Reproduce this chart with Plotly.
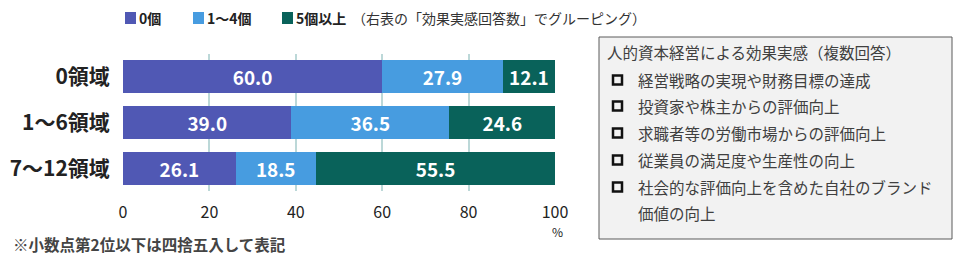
import plotly.graph_objects as go

categories = ["0領域", "1～6領域", "7～12領域"]
series_names = ["0個", "1～4個", "5個以上"]
series_values = {
    "0個": [60.0, 39.0, 26.1],
    "1～4個": [27.9, 36.5, 18.5],
    "5個以上": [12.1, 24.6, 55.5],
}
series_colors = {"0個": "#5058b4", "1～4個": "#479ce0", "5個以上": "#09625a"}
tick_vals = [0, 20, 40, 60, 80, 100]
legend_note = "（右表の「効果実感回答数」でグルーピング）"
footnote = "※小数点第2位以下は四捨五入して表記"
box_title = "人的資本経営による効果実感（複数回答）"
box_items = [
    "経営戦略の実現や財務目標の達成",
    "投資家や株主からの評価向上",
    "求職者等の労働市場からの評価向上",
    "従業員の満足度や生産性の向上",
    "社会的な評価向上を含めた自社のブランド",
]
box_item_wrap = "価値の向上"

FONT = "Noto Sans CJK JP"
W, H = 954, 279
ML, MR, MT, MB = 123, 954 - 555, 54, 279 - 191
PW, PH = W - ML - MR, H - MT - MB

fig = go.Figure()
for name in series_names:
    fig.add_trace(go.Bar(
        y=categories, x=series_values[name], name=name, orientation="h",
        marker=dict(color=series_colors[name], line=dict(width=0)),
        texttemplate="%{x:.1f}", textposition="inside", insidetextanchor="middle",
        textfont=dict(family=FONT, size=19, color="white", weight=700),
        hoverinfo="skip",
    ))

def px_x(x):
    return (x - ML) / PW

def px_y(y):
    return (H - MB - y) / PH

shapes = []
annotations = []

# legend (manual)
leg = [(125, "0個"), (193, "1～4個"), (282, "5個以上")]
for x0, name in leg:
    shapes.append(dict(type="rect", xref="paper", yref="paper",
                       x0=px_x(x0), x1=px_x(x0 + 11), y0=px_y(24), y1=px_y(12),
                       fillcolor=series_colors[name], line=dict(width=0)))
    annotations.append(dict(text=name, xref="paper", yref="paper", x=px_x(x0 + 12), y=px_y(18),
                            xanchor="left", yanchor="middle", showarrow=False,
                            font=dict(family=FONT, size=14, color="#222", weight=700)))
annotations.append(dict(text=legend_note, xref="paper", yref="paper", x=px_x(350), y=px_y(18),
                        xanchor="left", yanchor="middle", showarrow=False,
                        font=dict(family=FONT, size=14, color="#333")))

# % and footnote
annotations.append(dict(text="%", xref="paper", yref="paper", x=px_x(557), y=px_y(231),
                        xanchor="center", yanchor="middle", showarrow=False,
                        font=dict(family=FONT, size=12, color="#222")))
annotations.append(dict(text=footnote, xref="paper", yref="paper", x=px_x(11), y=px_y(244),
                        xanchor="left", yanchor="middle", showarrow=False,
                        font=dict(family=FONT, size=15.5, color="#444", weight=700)))

# right box
shapes.append(dict(type="rect", xref="paper", yref="paper",
                   x0=px_x(599), x1=px_x(952), y0=px_y(239), y1=px_y(37),
                   fillcolor="#f2f2f2", line=dict(color="#5a5a5a", width=1)))
ys = [52, 80, 106, 133, 160, 187, 213]
annotations.append(dict(text=box_title, xref="paper", yref="paper", x=px_x(605), y=px_y(ys[0]),
                        xanchor="left", yanchor="middle", showarrow=False,
                        font=dict(family=FONT, size=15.5, color="#404040")))
for i, item in enumerate(box_items):
    y = ys[i + 1]
    shapes.append(dict(type="rect", xref="paper", yref="paper",
                       x0=px_x(613), x1=px_x(622), y0=px_y(y + 4.5), y1=px_y(y - 4.5),
                       fillcolor="rgba(0,0,0,0)", line=dict(color="#111", width=2.5)))
    annotations.append(dict(text=item, xref="paper", yref="paper", x=px_x(636), y=px_y(y),
                            xanchor="left", yanchor="middle", showarrow=False,
                            font=dict(family=FONT, size=15.5, color="#404040")))
annotations.append(dict(text=box_item_wrap, xref="paper", yref="paper", x=px_x(636), y=px_y(ys[6]),
                        xanchor="left", yanchor="middle", showarrow=False,
                        font=dict(family=FONT, size=15.5, color="#404040")))

fig.update_layout(
    barmode="stack", bargap=0.28,
    width=W, height=H,
    margin=dict(l=ML, r=MR, t=MT, b=MB, pad=0, autoexpand=False),
    paper_bgcolor="white", plot_bgcolor="white",
    showlegend=False,
    shapes=shapes, annotations=annotations,
    xaxis=dict(range=[0, 100], tickvals=tick_vals, showgrid=True, gridcolor="#bcd8d8", gridwidth=1.5,
               zeroline=False, showline=False, ticks="outside", ticklen=7, tickcolor="rgba(0,0,0,0)",
               tickfont=dict(family=FONT, size=16, color="#222"), fixedrange=True, automargin=False),
    yaxis=dict(range=[2.5, -0.5], showgrid=False, zeroline=False, showline=False,
               ticks="outside", ticklen=8, tickcolor="rgba(0,0,0,0)", automargin=False,
               tickfont=dict(family=FONT, size=21, color="#222", weight=700)),
)

fig.write_html("out.html")
